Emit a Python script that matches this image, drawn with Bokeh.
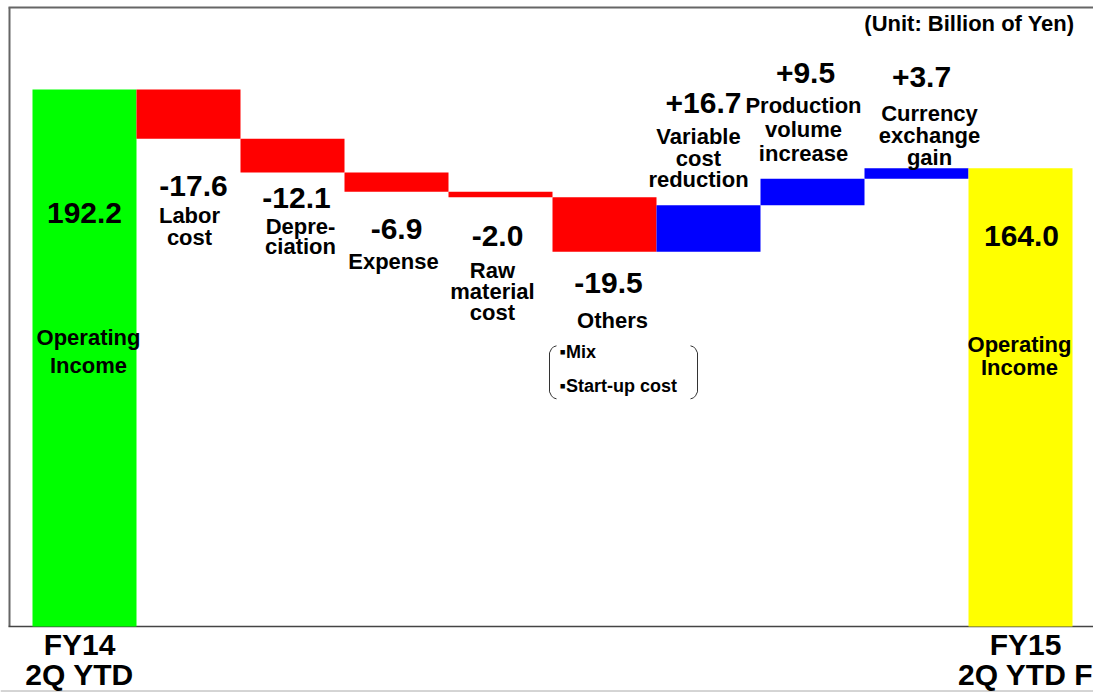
from bokeh.plotting import figure
from bokeh.models import Range1d, ColumnDataSource
from bokeh.core.properties import value
from bokeh.embed import file_html
from bokeh.resources import INLINE

# ---------------- data ----------------
categories = ["FY14\n2Q YTD", "Labor cost", "Depreciation", "Expense", "Raw material cost",
              "Others", "Variable cost reduction", "Production volume increase",
              "Currency exchange gain", "FY15\n2Q YTD F"]
amounts = [192.2, -17.6, -12.1, -6.9, -2.0, -19.5, 16.7, 9.5, 3.7, 164.0]
is_total = [True, False, False, False, False, False, False, False, False, True]
descriptions = ["Operating\nIncome", "Labor\ncost", "Depre-\nciation", "Expense",
                "Raw\nmaterial\ncost", "Others", "Variable\ncost\nreduction",
                "Production\nvolume\nincrease", "Currency\nexchange\ngain", "Operating\nIncome"]
others_items = ["\u25aaMix", "\u25aaStart-up cost"]
unit_label = "(Unit: Billion of Yen)"

# ---------------- waterfall geometry from data ----------------
idx = list(range(len(amounts)))
tops, bottoms, colors, anchors = [], [], [], []
level = 0.0
for i, (a, tot) in enumerate(zip(amounts, is_total)):
    if tot:
        level = a
        tops.append(a); bottoms.append(0.0)
        colors.append("#00FF00" if i == 0 else "#FFFF00")
    else:
        new = level + a
        tops.append(max(level, new)); bottoms.append(min(level, new))
        colors.append("#FF0000" if a < 0 else "#0000FF")
        level = new
    anchors.append(level)

value_texts = [f"{a:.1f}" if t else f"{a:+.1f}" for a, t in zip(amounts, is_total)]

# ---------------- layout / style ----------------
W, H = 1093, 695
bar_px = 104.0            # one category = 104 px
first_center_px = 84.0
zero_px = 626.0           # screen row of value 0
y_per_px = 192.2 / (626.0 - 89.0)
x0 = -first_center_px / bar_px
x1 = x0 + W / bar_px
y0 = -(H - zero_px) * y_per_px
y1 = zero_px * y_per_px

def sx(px):   # screen px -> data x
    return x0 + px / bar_px

def sy(py):   # screen px -> data y
    return (zero_px - py) * y_per_px

value_dx = [0, 5, 4, 0, -3, 4, -5, -7, 5, 1]
value_dy = [123, 47, 26, 37, 39, 31, -102, -106, -91, 68]
desc_dx = [4, 1, 8, -3, -8, 8, -10, -9, 13, -1]
desc_dy = [262, 88, 64, 70, 94, 69, -47, -49, -33, 188]
desc_lh = [1.14, 0.89, 0.81, 0.9, 0.85, 0.9, 0.85, 0.96, 0.87, 0.93]

FONT = value("Liberation Sans")

p = figure(width=W, height=H, output_backend="svg", toolbar_location=None,
           x_range=Range1d(x0, x1), y_range=Range1d(y0, y1),
           x_axis_location=None, y_axis_location=None,
           min_border=0, min_border_left=0, min_border_right=0,
           min_border_top=0, min_border_bottom=0,
           background_fill_color="white", border_fill_color="white",
           outline_line_color=None)
p.xgrid.visible = False
p.ygrid.visible = False

# frame decoration
p.segment(x0=[sx(9)], y0=[0], x1=[sx(9)], y1=[sy(7)], line_color="#666666", line_width=2)
p.segment(x0=[sx(8)], y0=[sy(7)], x1=[x1], y1=[sy(7)], line_color="#666666", line_width=2)
p.segment(x0=[sx(8)], y0=[0], x1=[x1], y1=[0], line_color="#444444", line_width=1.5)
p.segment(x0=[x0], y0=[sy(690.5)], x1=[x1], y1=[sy(690.5)], line_color="#AAAAAA", line_width=1)

# bars
p.vbar(x=idx, width=1.0, top=tops, bottom=bottoms, fill_color=colors, line_color=None)

# value labels
vs = ColumnDataSource(dict(x=idx, y=anchors, t=value_texts, dx=value_dx, dy=value_dy))
p.text(x="x", y="y", text="t", x_offset="dx", y_offset="dy", source=vs,
       text_font=FONT, text_font_style="bold", text_font_size="30px",
       text_align="center", text_baseline="middle", text_color="black")

# description labels
ds = ColumnDataSource(dict(x=idx, y=anchors, t=descriptions, dx=desc_dx, dy=desc_dy, lh=desc_lh))
p.text(x="x", y="y", text="t", x_offset="dx", y_offset="dy", source=ds,
       text_line_height="lh",
       text_font=FONT, text_font_style="bold", text_font_size="22px",
       text_align="center", text_baseline="middle", text_color="black")

# Others breakdown
oth = 5
os_ = ColumnDataSource(dict(x=[oth, oth], y=[anchors[oth]] * 2, t=others_items,
                            dx=[-45, -45], dy=[100, 134]))
p.text(x="x", y="y", text="t", x_offset="dx", y_offset="dy", source=os_,
       text_font=FONT, text_font_style="bold", text_font_size="18px",
       text_align="left", text_baseline="middle", text_color="black")

# bracket around the breakdown (px offsets from the Others anchor)
def px_pts(pts):
    xs = [oth + dx / bar_px for dx, dy in pts]
    ys = [anchors[oth] - dy * y_per_px for dx, dy in pts]
    return xs, ys

left_br = [(-48, 94), (-51, 95), (-53, 97), (-55, 101), (-55, 140), (-53, 144), (-51, 146), (-48, 147)]
right_br = [(86, 94), (89, 95), (91, 97), (93, 101), (93, 140), (91, 144), (89, 146), (86, 147)]
for br in (left_br, right_br):
    bx, by = px_pts(br)
    p.line(bx, by, line_color="#333333", line_width=1)

# unit label
p.text(x=[sx(1074)], y=[sy(23)], text=[unit_label],
       text_font=FONT, text_font_style="bold", text_font_size="22px",
       text_align="right", text_baseline="middle", text_color="black")

# category labels under the total bars
cat_idx = [0, len(amounts) - 1]
cs = ColumnDataSource(dict(x=cat_idx, y=[0, 0], t=[categories[i] for i in cat_idx], dx=[-5, 5]))
p.text(x="x", y="y", text="t", x_offset="dx", y_offset=33, source=cs, text_line_height=0.9,
       text_font=FONT, text_font_style="bold", text_font_size="30px",
       text_align="center", text_baseline="middle", text_color="black")

open("out.html", "w").write(file_html(p, INLINE))
